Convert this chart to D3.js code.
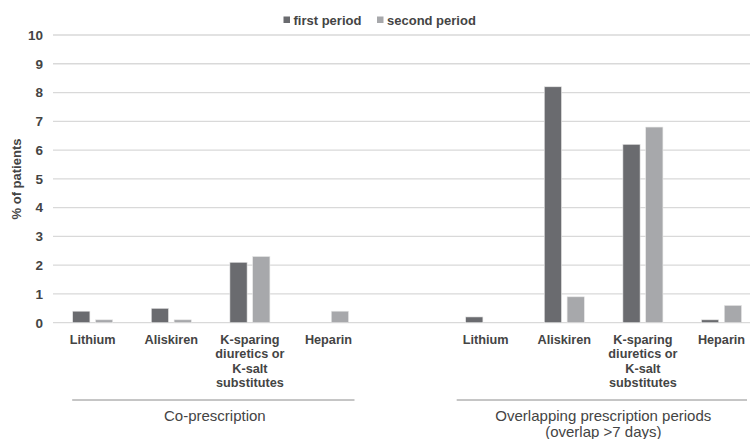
<!DOCTYPE html>
<html><head><meta charset="utf-8">
<script src="https://cdn.jsdelivr.net/npm/d3@7"></script>
<style>
html,body{margin:0;padding:0;background:#fff;}
svg{display:block;font-family:"Liberation Sans",Arial,sans-serif;}
</style></head>
<body><svg id="c" width="750" height="439"></svg>
<script>
const groups = ["Co-prescription", "Overlapping prescription periods|(overlap >7 days)"];
const drugs = ["Lithium", "Aliskiren", "K-sparing|diuretics or|K-salt|substitutes", "Heparin"];
const series = ["first period", "second period"];
const firstCo = [0.4, 0.5, 2.1, 0];
const secondCo = [0.1, 0.1, 2.3, 0.4];
const firstOv = [0.2, 8.2, 6.2, 0.1];
const secondOv = [0, 0.9, 6.8, 0.6];
const yTicks = [0,1,2,3,4,5,6,7,8,9,10];
const colors = ["#6a6b6f", "#a7a8ab"];

const svg = d3.select("#c");
const textColor = "#444";

const slots = [];
drugs.forEach((d,i)=>slots.push({key:"g0_"+i, drug:d, vals:[firstCo[i], secondCo[i]]}));
slots.push({key:"gap", drug:null, vals:[]});
drugs.forEach((d,i)=>slots.push({key:"g1_"+i, drug:d, vals:[firstOv[i], secondOv[i]]}));

const pi = 0.491;
const x = d3.scaleBand().domain(slots.map(s=>s.key)).range([53.4, 760.8]).paddingInner(pi).paddingOuter(pi/2);
const x1 = d3.scaleBand().domain(series).range([0, x.bandwidth()]).paddingInner(0.246);
const y = d3.scaleLinear().domain([0,10]).range([322.7, 35]);

svg.append("g").selectAll("line").data(yTicks).join("line")
  .attr("x1", 53).attr("x2", 750)
  .attr("y1", d=>y(d)).attr("y2", d=>y(d))
  .attr("stroke", "#d9d9d9").attr("stroke-width", 1.3);

const yAxis = d3.axisLeft(y).tickValues(yTicks).tickSize(0).tickPadding(0);
const ya = svg.append("g").attr("transform","translate(43,0)").call(yAxis);
ya.select(".domain").remove();
ya.selectAll("text").attr("font-size", 13.5).attr("font-weight","bold").attr("fill", textColor)
  .attr("font-family", '"Liberation Sans",Arial,sans-serif');

svg.append("text").attr("transform","translate(21,179) rotate(-90)")
  .attr("text-anchor","middle").attr("font-size",13).attr("font-weight","bold")
  .attr("fill",textColor).text("% of patients");

const sg = svg.append("g").selectAll("g").data(slots.filter(s=>s.drug)).join("g")
  .attr("transform", s=>`translate(${x(s.key)},0)`);
sg.selectAll("rect").data(s=>s.vals.map((v,i)=>({v, s:series[i], i}))).join("rect")
  .filter(d=>d.v>0)
  .attr("x", d=>x1(d.s)).attr("width", x1.bandwidth())
  .attr("y", d=>y(d.v)).attr("height", d=>y(0)-y(d.v))
  .attr("fill", d=>colors[d.i]).attr("stroke","#e6e6e6").attr("stroke-width",0.6);

sg.append("text").attr("x", x.bandwidth()/2).attr("text-anchor","middle")
  .attr("font-size",12.7).attr("font-weight","bold").attr("fill",textColor)
  .each(function(s){
    const t = d3.select(this);
    s.drug.split("|").forEach((ln,k)=>{
      t.append("tspan").attr("x", x.bandwidth()/2).attr("y", 343.5 + k*14.6).text(ln);
    });
  });

const gLines = [
  {x1: x("g0_0")-0.5, x2: x("g0_3")+x.bandwidth()+6, label: groups[0]},
  {x1: x("g1_0")-9, x2: 747, label: groups[1]}
];
gLines.forEach(g=>{
  svg.append("line").attr("x1",g.x1).attr("x2",g.x2).attr("y1",400).attr("y2",400)
    .attr("stroke","#8c8c8c").attr("stroke-width",1);
  const cx = (g.x1+g.x2)/2 + 1.5;
  const t = svg.append("text").attr("text-anchor","middle").attr("font-size",15).attr("fill",textColor);
  g.label.split("|").forEach((ln,k)=>{
    t.append("tspan").attr("x",cx).attr("y",421 + k*15.5).text(ln);
  });
});

const leg = svg.append("g");
const legX = [283.5, 377];
series.forEach((s,i)=>{
  leg.append("rect").attr("x",legX[i]).attr("y",16.5).attr("width",6.5).attr("height",6.5).attr("fill",colors[i]);
  leg.append("text").attr("x",legX[i]+10).attr("y",24.5).attr("font-size",13).attr("font-weight","bold")
    .attr("fill",textColor).text(s);
});
</script></body></html>
